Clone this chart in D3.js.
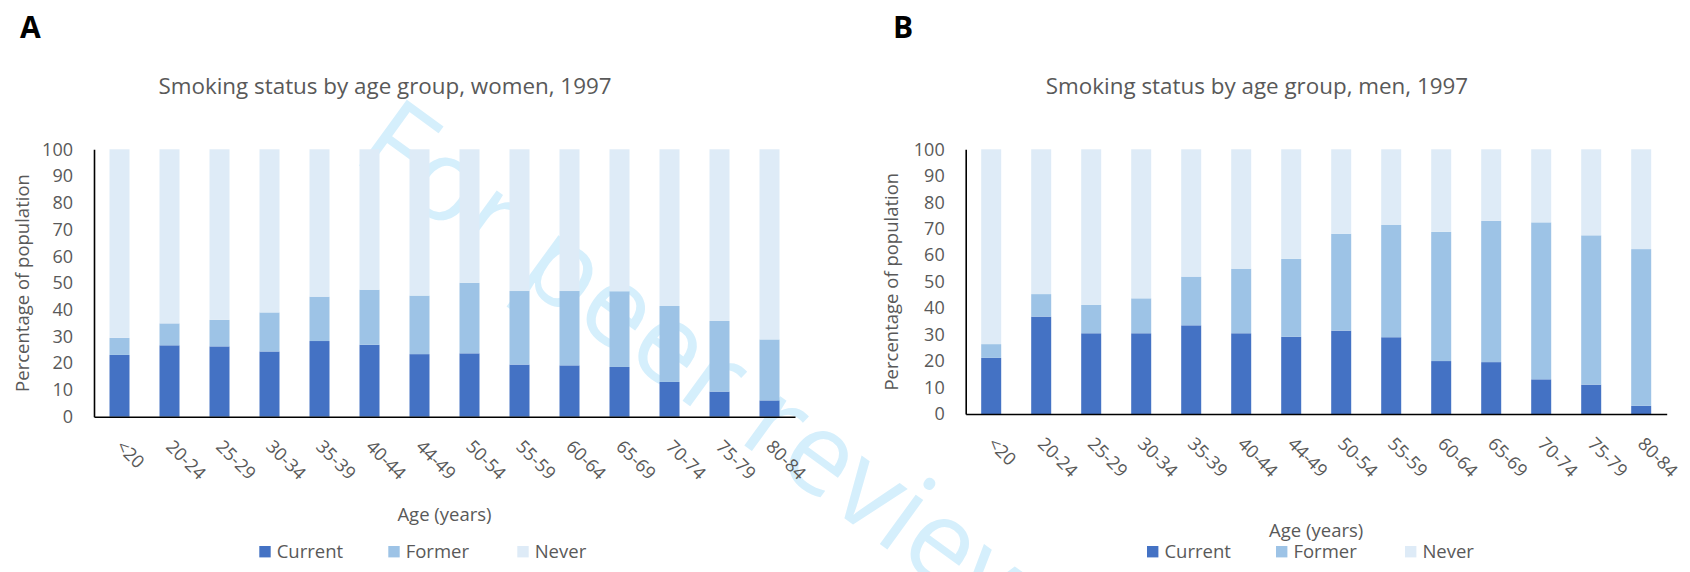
<!DOCTYPE html>
<html>
<head>
<meta charset="utf-8">
<script src="https://cdn.jsdelivr.net/npm/d3@7"></script>
<style>
  html, body { margin: 0; padding: 0; background: #fff; }
  svg { display: block; }
  text { font-family: "Open Sans", sans-serif; }
</style>
</head>
<body>
<svg id="chart" width="1690" height="572"></svg>
<script>
// ---------------- DATA ----------------
const ageGroups = ["<20", "20-24", "25-29", "30-34", "35-39", "40-44", "44-49", "50-54", "55-59", "60-64", "65-69", "70-74", "75-79", "80-84"];
const statusKeys = ["Current", "Former", "Never"];
const yTickValues = [0, 10, 20, 30, 40, 50, 60, 70, 80, 90, 100];

const womenCurrent = [23.1, 26.7, 26.3, 24.4, 28.3, 26.9, 23.4, 23.7, 19.5, 19.2, 18.6, 13.0, 9.4, 6.1];
const womenFormer  = [6.4, 8.2, 9.9, 14.6, 16.6, 20.6, 21.9, 26.4, 27.5, 27.8, 28.3, 28.4, 26.4, 22.8];
const womenNever   = [70.5, 65.1, 63.8, 61.0, 55.1, 52.5, 54.7, 49.9, 53.0, 53.0, 53.1, 58.6, 64.2, 71.1];

const menCurrent = [21.2, 36.8, 30.5, 30.5, 33.5, 30.5, 29.2, 31.5, 29.0, 20.0, 19.6, 13.1, 11.1, 3.1];
const menFormer  = [5.2, 8.5, 10.7, 13.2, 18.4, 24.4, 29.4, 36.6, 42.4, 48.8, 53.4, 59.3, 56.4, 59.2];
const menNever   = [73.6, 54.7, 58.8, 56.3, 48.1, 45.1, 41.4, 31.9, 28.6, 31.2, 27.0, 27.6, 32.5, 37.7];

const panelLetters = ["A", "B"];
const chartTitles = ["Smoking status by age group, women, 1997", "Smoking status by age group, men, 1997"];
const yAxisTitle = "Percentage of population";
const xAxisTitle = "Age (years)";
const watermarkText = "For peer review";

// ---------------- STYLE / LAYOUT ----------------
const colors = { Current: "#4472C4", Former: "#9DC3E6", Never: "#DEEBF7" };
const textGrey = "#595959";

const panels = [
  { current: womenCurrent, former: womenFormer, never: womenNever,
    left: 94, right: 795, top: 149.3, bottom: 416.7,
    letterX: 20, titleX: 385, yTitleX: 29, xTitleY: 520.7, legendX: 259.3 },
  { current: menCurrent, former: menFormer, never: menNever,
    left: 965.7, right: 1666.7, top: 149.3, bottom: 414,
    letterX: 893, titleX: 1257, yTitleX: 898, xTitleY: 536.5, legendX: 1147 }
];

const svg = d3.select("#chart");

// watermark (behind everything)
svg.append("text")
  .attr("transform", "translate(350,159) rotate(36)")
  .attr("font-size", 114)
  .attr("fill", "#d5effc")
  .text(watermarkText);

panels.forEach((p, pi) => {
  const g = svg.append("g");

  const rows = ageGroups.map((a, i) => ({ age: a, Current: p.current[i], Former: p.former[i], Never: p.never[i] }));
  const series = d3.stack().keys(statusKeys)(rows);

  const x = d3.scaleBand().domain(ageGroups).range([p.left, p.right])
    .paddingInner(0.6).paddingOuter(0.31);
  const y = d3.scaleLinear().domain([0, 100]).range([p.bottom, p.top]);

  // bars
  g.selectAll("g.series").data(series).join("g")
    .attr("class", "series")
    .attr("fill", d => colors[d.key])
    .selectAll("rect").data(d => d).join("rect")
      .attr("x", d => x(d.data.age))
      .attr("width", x.bandwidth())
      .attr("y", d => y(d[1]))
      .attr("height", d => y(d[0]) - y(d[1]));

  // y axis
  const yAxis = g.append("g")
    .attr("transform", `translate(${p.left},0)`)
    .call(d3.axisLeft(y).tickValues(yTickValues).tickSize(0).tickSizeOuter(0).tickPadding(21));
  yAxis.select(".domain").attr("stroke", "#000").attr("stroke-width", 1.6);
  yAxis.selectAll("text")
    .attr("font-family", "Open Sans")
    .attr("font-size", 18)
    .attr("fill", textGrey);

  // x axis
  const xAxis = g.append("g")
    .attr("transform", `translate(0,${p.bottom})`)
    .call(d3.axisBottom(x).tickSize(0).tickSizeOuter(0));
  xAxis.select(".domain").attr("stroke", "#000").attr("stroke-width", 1.6);
  xAxis.selectAll(".tick text")
    .attr("font-family", "Open Sans")
    .attr("font-size", 18)
    .attr("fill", textGrey)
    .attr("text-anchor", "start")
    .attr("y", 0)
    .attr("dy", "0.35em")
    .attr("transform", "translate(0,26.5) rotate(45)");

  // panel letter
  svg.append("text")
    .attr("x", p.letterX).attr("y", 37.5)
    .attr("font-family", "Liberation Sans, Arial, sans-serif")
    .attr("font-weight", "bold")
    .attr("font-size", 30)
    .attr("fill", "#000")
    .text(panelLetters[pi]);

  // chart title
  svg.append("text")
    .attr("x", p.titleX).attr("y", 94.3)
    .attr("text-anchor", "middle")
    .attr("font-size", 22.4)
    .attr("fill", textGrey)
    .text(chartTitles[pi]);

  // y axis title
  svg.append("text")
    .attr("transform", `translate(${p.yTitleX},${(p.top + p.bottom) / 2}) rotate(-90)`)
    .attr("text-anchor", "middle")
    .attr("font-size", 18.5)
    .attr("fill", textGrey)
    .text(yAxisTitle);

  // x axis title
  svg.append("text")
    .attr("x", (p.left + p.right) / 2).attr("y", p.xTitleY)
    .attr("text-anchor", "middle")
    .attr("font-size", 18.5)
    .attr("fill", textGrey)
    .text(xAxisTitle);

  // legend
  const leg = svg.append("g").attr("transform", `translate(${p.legendX},546)`);
  const items = leg.selectAll("g").data(statusKeys).join("g")
    .attr("transform", (d, i) => `translate(${i * 129},0)`);
  items.append("rect").attr("width", 11.4).attr("height", 11.4).attr("fill", d => colors[d]);
  items.append("text")
    .attr("x", 17.4).attr("y", 12.3)
    .attr("font-size", 18.5)
    .attr("fill", textGrey)
    .text(d => d);
});
</script>
</body>
</html>
